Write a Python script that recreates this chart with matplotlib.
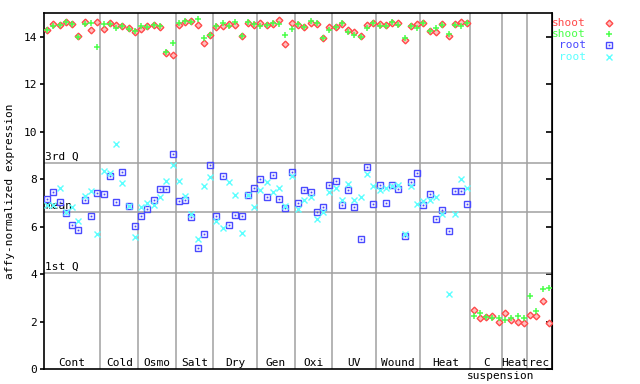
import numpy as np
import matplotlib
matplotlib.use("Agg")
import matplotlib.pyplot as plt
from matplotlib.lines import Line2D
from matplotlib import transforms

plt.rcParams["font.family"] = "DejaVu Sans Mono"
plt.rcParams["font.size"] = 8

# groups along the x axis (number of samples per group)
group_names = ["Cont", "Cold", "Osmo", "Salt", "Dry", "Gen", "Oxi", "UV",
               "Wound", "Heat", "C", "Heat", "rec"]
group_sizes = [9, 6, 6, 6, 7, 6, 6, 7, 7, 8, 5, 4, 4]

nan = np.nan

shoot_1 = [14.30, 14.52, 14.50, 14.60, 14.55, 14.03, 14.62, 14.28, 14.62,
           14.31, 14.57, 14.50, 14.45, 14.38, 14.21,
           14.31, 14.45, 14.48, 14.42, 13.32, 13.25,
           14.50, 14.62, 14.66, 14.50, 13.72, 14.06,
           14.42, 14.45, 14.52, 14.48, 14.03, 14.59, 14.48,
           14.57, 14.50, 14.52, 14.71, 13.68, 14.57,
           14.50, 14.42, 14.59, 14.55, 13.93, 14.41,
           14.41, 14.52, 14.28, 14.21, 14.03, 14.48, 14.57,
           14.52, 14.48, 14.59, 14.57, 13.86, 14.45, 14.52,
           14.57, 14.24, 14.21, 14.52, 14.03, 14.52, 14.62, 14.59,
           2.49, 2.16, 2.19, 2.22, 2.00,
           2.36, 2.08, 2.00, 1.92,
           2.27, 2.25, 2.85, 1.95]

shoot_2 = [14.27, 14.45, 14.50, 14.62, 14.52, 14.00, 14.55, 14.57, 13.56,
           14.52, 14.52, 14.35, 14.45, 14.31, 14.24,
           14.45, 14.41, 14.48, 14.45, 13.34, 13.72,
           14.57, 14.66, 14.63, 14.74, 13.93, 14.07,
           14.45, 14.57, 14.45, 14.62, 14.03, 14.62, 14.52,
           14.45, 14.50, 14.59, 14.52, 14.06, 14.34,
           14.52, 14.42, 14.67, 14.59, 13.93, 14.28,
           14.41, 14.57, 14.20, 14.06, 14.00, 14.35, 14.57,
           14.45, 14.45, 14.62, 14.50, 13.96, 14.45, 14.35,
           14.57, 14.24, 14.35, 14.50, 14.10, 14.50, 14.45, 14.57,
           2.23, 2.35, 2.19, 2.13, 2.13,
           2.08, 2.16, 2.23, 2.15,
           3.08, 2.43, 3.36, 3.40]

root_1 = [7.17, 7.46, 7.04, 6.57, 6.08, 5.85, 7.11, 6.46, 7.42,
          7.38, 8.15, 7.04, 8.30, 6.87, 6.02,
          6.45, 6.74, 7.10, 7.59, 7.59, 9.08,
          7.08, 7.12, 6.40, 5.11, 5.69, 8.60,
          6.45, 8.14, 6.07, 6.49, 6.45, 7.34, 7.63,
          8.01, 7.25, 8.18, 7.17, 6.78, 8.30,
          7.00, 7.55, 7.46, 6.62, 6.83, 7.76,
          7.93, 6.91, 7.55, 6.83, 5.47, 8.52, 6.96,
          7.76, 7.00, 7.76, 7.59, 5.60, 7.88, 8.26,
          6.91, 7.38, 6.32, 6.70, 5.81, 7.50, 7.50, 6.96] + [nan] * 13

root_2 = [6.91, 6.91, 7.64, 6.62, 6.83, 6.23, 7.28, 7.50, 5.70,
          8.35, 8.24, 9.48, 7.84, 6.87, 5.56,
          6.83, 7.00, 6.90, 7.25, 7.93, 8.58,
          7.93, 7.30, 6.55, 5.49, 7.72, 8.10,
          6.23, 5.95, 7.89, 7.34, 5.73, 7.34, 6.83,
          7.55, 7.89, 7.46, 7.63, 6.87, 8.14,
          6.76, 7.12, 7.25, 6.32, 6.62, 7.46,
          7.63, 7.12, 7.80, 7.12, 7.25, 8.22, 7.72,
          7.55, 7.63, 7.70, 7.76, 5.67, 7.72, 6.96,
          7.08, 7.12, 7.25, 6.53, 3.15, 6.53, 8.01, 7.63] + [nan] * 13

# reference lines
ref_values = [8.69, 6.62, 4.06]
ref_labels = ["3rd Q", "mean", "1st Q"]

RED = "#ff4a4a"
GREEN = "#4aff4a"
BLUE = "#4a4aff"
CYAN = "#5cffff"
GRAY = "#a0a0a0"

n = sum(group_sizes)
x = np.arange(n) + 0.5
bounds = np.cumsum(group_sizes)
starts = bounds - np.array(group_sizes)

fig = plt.figure(figsize=(6.4, 3.84), dpi=100)
ax = fig.add_axes([44 / 640, 15 / 384, 508 / 640, 356 / 384])
ax.set_xlim(0, n)
ax.set_ylim(0, 15)

# separators and quartile lines
for b in bounds[:-1]:
    ax.axvline(b, color=GRAY, lw=1.1, zorder=1)
for v, lab in zip(ref_values, ref_labels):
    ax.axhline(v, color=GRAY, lw=1.1, zorder=1)
    ax.text(0.15, v + 0.04, lab, ha="left", va="bottom", color="black", zorder=2)

# series
red_st = dict(marker="D", ms=3.4, mfc="#ffc0c0", mec=RED, mew=1.0)
green_st = dict(marker="+", ms=5.0, mec=GREEN, mew=1.1)
blue_st = dict(marker="s", ms=3.9, mfc="none", mec=BLUE, mew=1.0)
dot_st = dict(marker="s", ms=0.9, mfc=BLUE, mec=BLUE, mew=0.3)
cyan_st = dict(marker="x", ms=3.9, mec=CYAN, mew=1.0)

ax.plot(x, shoot_1, ls="none", zorder=3, **red_st)
ax.plot(x, shoot_2, ls="none", zorder=4, **green_st)
ax.plot(x, root_1, ls="none", zorder=3, **blue_st)
ax.plot(x, root_1, ls="none", zorder=3, **dot_st)
ax.plot(x, root_2, ls="none", zorder=4, **cyan_st)

# axes styling
for s in ax.spines.values():
    s.set_linewidth(1.2)
ax.set_yticks(np.arange(0, 15, 2))
ax.tick_params(axis="y", direction="out", length=3, width=1.2, right=False, pad=2)
sec = ax.secondary_yaxis("right")
sec.set_yticks(np.arange(0, 15, 2))
sec.tick_params(axis="y", direction="in", length=4, width=1.2, labelright=False)
ax.set_xticks([])
ax.set_ylabel("affy-normalized expression", labelpad=6)

trans = transforms.blended_transform_factory(ax.transData, ax.transAxes)
for name, s0, sz in zip(group_names, starts, group_sizes):
    ax.text(s0 + sz / 2, 0.03, name, ha="center", va="top", transform=trans)
# second line of the cell-suspension label
ax.text(starts[10] - 0.5, -0.007, "suspension", ha="left", va="top", transform=trans)

# legend drawn to the right of the plot
leg_labels = ["shoot", "shoot", "root", "root"]
leg_colors = [RED, GREEN, BLUE, CYAN]
leg_styles = [red_st, green_st, blue_st, cyan_st]
for k, (lab, col, st) in enumerate(zip(leg_labels, leg_colors, leg_styles)):
    yy = 1 - (23 + k * 11.2) / 384
    fig.text(586 / 640, yy, lab, color=col, ha="right", va="center")
    fig.add_artist(Line2D([609 / 640], [yy], transform=fig.transFigure, ls="none", **st))
    if st is blue_st:
        fig.add_artist(Line2D([609 / 640], [yy], transform=fig.transFigure, ls="none", **dot_st))

fig.savefig("out.png", dpi=100)
